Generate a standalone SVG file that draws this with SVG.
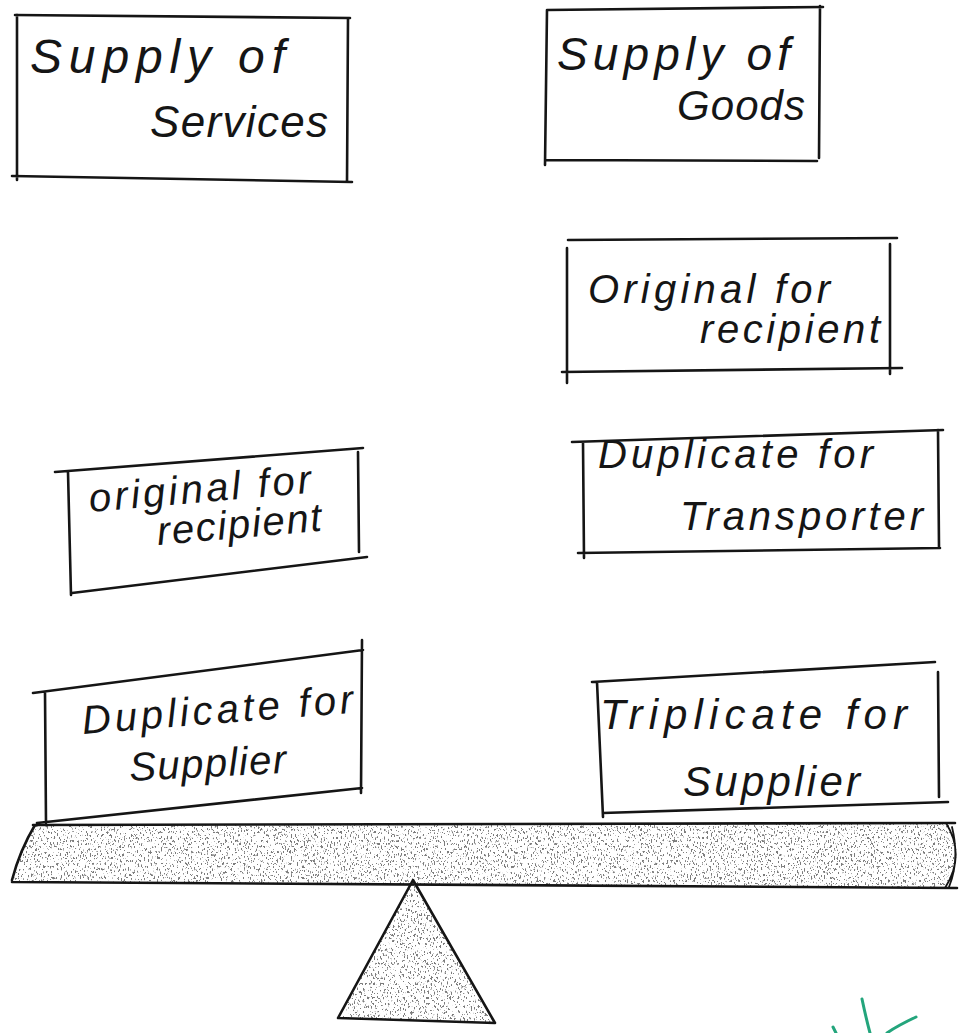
<svg xmlns="http://www.w3.org/2000/svg" width="967" height="1033" viewBox="0 0 967 1033">
<defs>
<style>
.ln{fill:none;stroke:#151515;stroke-width:2.6;stroke-linecap:round;stroke-linejoin:round}
.thin{fill:none;stroke:#151515;stroke-width:1.8;stroke-linecap:round}
.tx{font-family:"Liberation Sans","DejaVu Sans",sans-serif;fill:#151515;font-style:italic}
.green{fill:none;stroke:#23a57c;stroke-width:3;stroke-linecap:round;stroke-linejoin:round}
</style>
<filter id="speckle" x="0" y="0" width="100%" height="100%" filterUnits="objectBoundingBox">
<feTurbulence type="fractalNoise" baseFrequency="0.7 0.35" numOctaves="3" seed="7" result="n"/>
<feColorMatrix in="n" type="matrix" values="0 0 0 0 0.2  0 0 0 0 0.2  0 0 0 0 0.2  -14 0 0 0 5.6" result="dots"/>
<feComposite in="dots" in2="SourceGraphic" operator="in"/>
</filter>
</defs>
<rect width="967" height="1033" fill="#ffffff"/>

<g id="supply-of-services">
<path class="ln" d="M15,15 L350,18 M17,15 L17,180 M348,18 L347,182 M12,176 L352,182"/>
<text class="tx" x="30" y="73" textLength="255" lengthAdjust="spacing" font-size="48">Supply of</text>
<text class="tx" x="150" y="137" textLength="178" lengthAdjust="spacing" font-size="44">Services</text>
</g>

<g id="supply-of-goods">
<path class="ln" d="M547,10 L823,7 M547,10 L545,165 M820,6 L819,158 M545,160 L817,161"/>
<text class="tx" x="557" y="70" textLength="233" lengthAdjust="spacing" font-size="46">Supply of</text>
<text class="tx" x="677" y="120" textLength="128" lengthAdjust="spacing" font-size="42">Goods</text>
</g>

<g id="goods-original-for-recipient">
<path class="ln" d="M568,240 L897,238 M567,248 L567,383 M890,244 L890,374 M562,372 L902,368"/>
<text class="tx" x="588" y="303" textLength="242" lengthAdjust="spacing" font-size="40">Original for</text>
<text class="tx" x="700" y="343" textLength="180" lengthAdjust="spacing" font-size="40">recipient</text>
</g>

<g id="duplicate-for-transporter">
<path class="ln" d="M572,442 L943,430 M583,442 L584,558 M938,430 L939,547 M578,553 L940,548"/>
<text class="tx" x="598" y="468" textLength="275" lengthAdjust="spacing" font-size="40">Duplicate for</text>
<text class="tx" x="680" y="530" textLength="243" lengthAdjust="spacing" font-size="40">Transporter</text>
</g>

<g id="services-original-for-recipient">
<path class="ln" d="M55,472 L363,448 M68,472 L71,595 M358,452 L359,552 M72,593 L367,557"/>
<text class="tx" x="90" y="512" textLength="223" lengthAdjust="spacing" font-size="40" transform="rotate(-5 90 512)">original for</text>
<text class="tx" x="158" y="545" textLength="165" lengthAdjust="spacing" font-size="40" transform="rotate(-5 158 545)">recipient</text>
</g>

<g id="duplicate-for-supplier">
<path class="ln" d="M33,693 L363,650 M45,692 L46,823 M362,640 L361,793 M37,823 L362,788"/>
<text class="tx" x="83" y="734" textLength="272" lengthAdjust="spacing" font-size="40" transform="rotate(-4.5 83 734)">Duplicate for</text>
<text class="tx" x="130" y="781" textLength="157" lengthAdjust="spacing" font-size="40" transform="rotate(-3 130 781)">Supplier</text>
</g>

<g id="triplicate-for-supplier">
<path class="ln" d="M592,682 L935,662 M597,682 L603,817 M938,672 L939,797 M603,813 L948,802"/>
<text class="tx" x="600" y="729" textLength="307" lengthAdjust="spacing" font-size="42">Triplicate for</text>
<text class="tx" x="683" y="796" textLength="177" lengthAdjust="spacing" font-size="42">Supplier</text>
</g>

<g id="beam">
<path d="M35,825 L950,823 Q964,856 948,888 L12,882 Q20,850 35,825 Z" fill="#000" filter="url(#speckle)"/>
<path class="ln" d="M33,825 L955,823 M12,882 L957,888 M35,825 Q20,850 12,880"/>
<path class="thin" d="M946,823 Q966,855 945,888 M952,827 Q960,860 949,887"/>
</g>

<g id="fulcrum">
<path d="M413,880 L338,1018 L495,1023 Z" fill="#000" filter="url(#speckle)"/>
<path class="ln" d="M413,880 L338,1018 L495,1023 Z"/>
</g>

<g id="mark">
<path class="green" d="M862,999 Q866,1018 870,1033 M916,1017 Q897,1026 887,1033 M833,1027 L836,1033"/>
</g>

<g id="connectors"></g>
</svg>
